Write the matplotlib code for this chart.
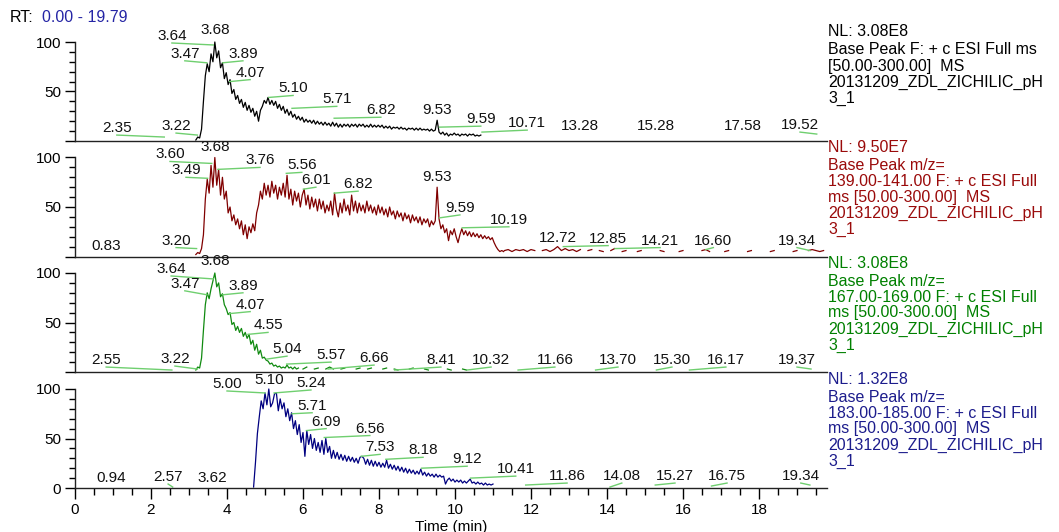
import numpy as np
import matplotlib.pyplot as plt
from matplotlib.ticker import MultipleLocator, FixedLocator

plt.rcParams['font.family'] = ['Liberation Sans', 'DejaVu Sans']

nan = np.nan
step = 0.05  # scan spacing (min) of the traces below

# ---- trace 1: Base Peak full ms (black), relative abundance %
t1_start = 3.18
trace1 = [1, 4, 3, 12, 40, 66, 78, 70, 88, 80, 100, 84, 91, 74, 79, 63, 69, 57, 62, 48,
          52, 42, 46, 38, 42, 34, 39, 31, 36, 29, 33, 25, 30, 20, 31, 35, 41, 38, 44, 37,
          41, 36, 40, 33, 37, 31, 35, 28, 32, 26, 30, 24, 27, 22, 25, 21, 24, 19, 22, 19,
          21, 18, 21, 17, 20, 17, 19, 16, 19, 16, 18, 15, 19, 15, 18, 14, 17, 14, 17, 15,
          17, 14, 17, 15, 17, 14, 17, 15, 17, 14, 16, 14, 17, 14, 16, 14, 16, 14, 16, 13,
          15, 13, 15, 12, 14, 13, 14, 12, 14, 12, 13, 11, 13, 12, 13, 11, 13, 11, 13, 11,
          12, 11, 12, 10, 12, 10, 11, 21, 9, 7, 9, 6, 8, 5, 7, 6, 8, 6, 7, 5,
          7, 6, 7, 5, 7, 6, 7, 5, 6, 5, 6]

# ---- trace 2: m/z 139-141 (dark red)
t2_start = 3.18
trace2 = [2, 4, 3, 8, 22, 58, 78, 64, 92, 70, 100, 72, 88, 62, 80, 58, 66, 44, 50, 36,
          42, 32, 38, 28, 36, 22, 32, 18, 30, 24, 33, 26, 44, 52, 66, 58, 74, 62, 72, 60,
          76, 64, 72, 58, 70, 62, 74, 60, 82, 58, 68, 52, 66, 56, 64, 50, 62, 68, 52, 62,
          48, 60, 50, 58, 46, 58, 48, 56, 44, 52, 46, 56, 42, 64, 48, 40, 54, 44, 58, 46,
          52, 42, 62, 46, 56, 44, 54, 46, 52, 44, 56, 46, 52, 44, 50, 42, 52, 44, 50, 42,
          48, 40, 50, 42, 46, 38, 46, 40, 44, 36, 44, 38, 42, 34, 42, 36, 40, 34, 40, 32,
          38, 34, 38, 30, 36, 32, 36, 70, 38, 28, 32, 24, 28, 16, 26, 22, 28, 20, 14, 22,
          28, 22, 26, 21, 25, 20, 24, 20, 23, 19, 22, 18, 21, 18, 20, 17, 19, 14, 10, 7,
          5, 6, 5]
t2_tail_start = 11.3
trace2_tail = [6, 7, 5, 7, 6, 7, 5, 7, 6, nan, 6, 7, 5, 7, 10, 6, 8, 6, 7, 5,
               7, nan, 6, 7, nan, 6, 5, nan, 6, 8, nan, 5, 6, nan, nan, 5, 6, nan, 5, nan,
               nan, 6, 5, nan, nan, nan, 5, 6, nan, nan, 5, nan, 6, 7, 5, nan, nan, nan, 5, 6,
               nan, nan, nan, nan, 5, 6, nan, nan, nan, nan, 5, 6, nan, nan, nan, nan, 5, 6, nan, nan,
               6, 7, 6, 5, 6]

# ---- trace 3: m/z 167-169 (green)
t3_start = 3.18
trace3 = [2, 5, 4, 14, 42, 68, 80, 74, 84, 92, 100, 86, 90, 76, 79, 68, 64, 58, 60, 48,
          50, 42, 46, 40, 44, 36, 40, 34, 38, 28, 32, 22, 28, 18, 22, 14, 15, 12, 11, 8,
          9, 6, 7, 5, 6, 4, 5, 4, 7, 4, 5, 3, 5, 3, 4]
t3_tail_start = 6.0
trace3_tail = [3, 5, nan, 3, 4, nan, 3, 5, 3, nan, 3, 4, nan, nan, 3, 4, nan, 3, 4, nan,
               nan, 3, 4, nan, 3, 2, nan, nan, 3, 4, nan, nan, 3, 2, nan, 3, nan, nan, 3, 2,
               nan, nan, 3, 2]

# ---- trace 4: m/z 183-185 (navy)
t4_start = 4.70
trace4 = [1, 26, 55, 72, 88, 80, 96, 84, 100, 82, 86, 95, 96, 78, 90, 80, 86, 72, 80, 68,
          76, 60, 68, 54, 64, 46, 56, 32, 58, 44, 54, 40, 50, 38, 46, 36, 48, 34, 50, 36,
          42, 30, 38, 30, 36, 29, 34, 28, 33, 27, 32, 27, 31, 26, 30, 25, 31, 32, 30, 24,
          29, 23, 28, 22, 27, 22, 26, 21, 25, 21, 28, 20, 24, 19, 23, 18, 22, 17, 21, 16,
          20, 15, 19, 15, 18, 14, 17, 14, 19, 13, 16, 12, 15, 12, 14, 11, 14, 11, 13, 11,
          12, 4, 8, 10, 7, 9, 6, 8, 6, 8, 5, 7, 5, 7, 9, 5, 6, 4, 6, 4,
          5, 3, 5, 3, 4, 3, 4]

# ---- peak labels: retention time, peak apex (%), label centre (min, %)
p1_rt = ['2.35', '3.22', '3.64', '3.68', '3.47', '3.89', '4.07', '5.10', '5.71', '6.82',
         '9.53', '9.59', '10.71', '13.28', '15.28', '17.58', '19.52']
p1_h = [4, 6, 97, 100, 79, 79, 60, 44, 33, 23, 21, 14, 9, 1, 1, 1, 7]
p1_lx = [1.1, 2.66, 2.55, 3.68, 2.89, 4.42, 4.61, 5.74, 6.89, 8.05, 9.53, 10.68, 11.9,
         13.28, 15.28, 17.58, 19.08]
p1_ly = [6, 8, 99, 105, 81, 81, 62, 46, 35, 24, 24, 15, 11, 8, 8, 8, 9]

p2_rt = ['0.83', '3.20', '3.60', '3.68', '3.49', '3.76', '5.56', '6.01', '6.82', '9.53',
         '9.59', '10.19', '12.72', '12.85', '14.21', '16.60', '19.34']
p2_h = [4, 8, 94, 100, 79, 88, 84, 68, 64, 70, 39, 29, 12, 10, 8, 7, 6]
p2_lx = [0.83, 2.66, 2.5, 3.68, 2.92, 4.87, 5.97, 6.34, 7.45, 9.53, 10.13, 11.42, 12.72,
         14.03, 15.4, 16.8, 19.0]
p2_ly = [4, 9, 96, 104, 80, 90, 85, 70, 66, 73, 42, 30, 12, 11, 9, 9, 9]

p3_rt = ['2.55', '3.22', '3.64', '3.68', '3.47', '3.89', '4.07', '4.55', '5.04', '5.57',
         '6.66', '8.41', '10.32', '11.66', '13.70', '15.30', '16.17', '19.37']
p3_h = [2, 3, 94, 100, 78, 78, 59, 38, 13, 8, 3, 2, 2, 2, 2, 2, 2, 3]
p3_lx = [0.82, 2.63, 2.53, 3.68, 2.89, 4.42, 4.61, 5.08, 5.58, 6.74, 7.87, 9.63, 10.95,
         12.63, 14.29, 15.71, 17.13, 19.0]
p3_ly = [5, 6, 97, 105, 82, 80, 61, 40, 16, 10, 7, 5, 5, 5, 5, 5, 5, 5]

p4_rt = ['0.94', '2.57', '3.62', '5.00', '5.10', '5.24', '5.71', '6.09', '6.56', '7.53',
         '8.18', '9.12', '10.41', '11.86', '14.08', '15.27', '16.75', '19.34']
p4_h = [0, 1, 0, 96, 100, 96, 75, 58, 51, 32, 29, 20, 10, 3, 1, 3, 2, 3]
p4_lx = [0.94, 2.45, 3.62, 4.0, 5.10, 6.21, 6.24, 6.61, 7.76, 8.03, 9.16, 10.32, 11.6,
         12.95, 14.39, 15.79, 17.16, 19.1]
p4_ly = [3, 4, 3, 98, 102, 99, 76, 60, 53, 34, 31, 22, 12, 5, 5, 5, 5, 5]

info1 = ['NL: 3.08E8', 'Base Peak F: + c ESI Full ms', '[50.00-300.00]  MS',
         '20131209_ZDL_ZICHILIC_pH', '3_1']
info2 = ['NL: 9.50E7', 'Base Peak m/z=', '139.00-141.00 F: + c ESI Full',
         'ms [50.00-300.00]  MS', '20131209_ZDL_ZICHILIC_pH', '3_1']
info3 = ['NL: 3.08E8', 'Base Peak m/z=', '167.00-169.00 F: + c ESI Full',
         'ms [50.00-300.00]  MS', '20131209_ZDL_ZICHILIC_pH', '3_1']
info4 = ['NL: 1.32E8', 'Base Peak m/z=', '183.00-185.00 F: + c ESI Full',
         'ms [50.00-300.00]  MS', '20131209_ZDL_ZICHILIC_pH', '3_1']

leader = '#6fcf6f'
fs = 11

fig = plt.figure(figsize=(10.59, 5.32), dpi=100)
zeros = [141, 256.5, 372, 488]   # pixel row of each panel's 0 line
H = 115.7                        # panel height in px

panels = [
    (trace1, t1_start, None, None, 'black', 'black', p1_rt, p1_h, p1_lx, p1_ly, info1),
    (trace2, t2_start, trace2_tail, t2_tail_start, '#800000', '#9a0a0a', p2_rt, p2_h, p2_lx, p2_ly, info2),
    (trace3, t3_start, trace3_tail, t3_tail_start, '#108a10', '#008000', p3_rt, p3_h, p3_lx, p3_ly, info3),
    (trace4, t4_start, None, None, '#000080', '#1c1c8c', p4_rt, p4_h, p4_lx, p4_ly, info4),
]

axes = []
for k, (tr, t0, tail, tail0, col, tcol, rts, hs, lxs, lys, info) in enumerate(panels):
    ax = fig.add_axes([75 / 1059, (532 - zeros[k]) / 532, 752 / 1059, H / 532])
    axes.append(ax)
    t = t0 + step * np.arange(len(tr))
    ax.plot(t, tr, color=col, lw=0.9)
    if tail is not None:
        tt = tail0 + 0.1 * np.arange(len(tail))
        ax.plot(tt, tail, color=col, lw=0.9)

    # peak labels with leader lines
    for s, h, lx, ly in zip(rts, hs, lxs, lys):
        if abs(lx - float(s)) > 0.01:
            ax.plot([float(s), lx], [h, ly], color=leader, lw=1.0, clip_on=False)
        ax.text(lx, ly, s, ha='center', va='bottom', fontsize=fs, color='#111111')

    # header block to the right
    ypx = [109, 91, 75, 59, 43, 27]
    for line, yp in zip(info, ypx):
        ax.text(1.0015, yp / H, line, transform=ax.transAxes, ha='left', va='center',
                fontsize=11.5, color=tcol)

    ax.set_xlim(0, 19.79)
    ax.set_ylim(0, H / 0.99)
    ax.spines['top'].set_visible(False)
    ax.spines['right'].set_visible(False)
    ax.spines['left'].set_bounds(0, 100)
    for sp in ['left', 'bottom']:
        ax.spines[sp].set_color('#222222')
        ax.spines[sp].set_linewidth(1.0)
    ax.yaxis.set_major_locator(FixedLocator([0, 50, 100]))
    ax.yaxis.set_minor_locator(FixedLocator([10, 20, 30, 40, 60, 70, 80, 90]))
    if k < 3:
        ax.set_yticklabels(['', '50', '100'])
        ax.tick_params(axis='x', which='both', bottom=False, labelbottom=False)
    else:
        ax.set_yticklabels(['0', '50', '100'])
        ax.xaxis.set_major_locator(MultipleLocator(2))
        ax.xaxis.set_minor_locator(MultipleLocator(0.5))
        ax.tick_params(axis='x', which='major', length=8, width=1, pad=3, labelsize=fs)
        ax.tick_params(axis='x', which='minor', length=5, width=1)
        ax.set_xlabel('Time (min)', fontsize=fs, labelpad=2)
    ax.tick_params(axis='y', which='major', length=7, width=1, pad=3, labelsize=fs)
    ax.tick_params(axis='y', which='minor', length=4, width=1)
    ax.patch.set_alpha(0)

fig.text(10 / 1059, 1 - 17 / 532, 'RT:', fontsize=11.5, va='center', ha='left')
fig.text(42 / 1059, 1 - 17 / 532, '0.00 - 19.79', fontsize=11.5, va='center', ha='left',
         color='#2525a5')

fig.savefig('out.png', dpi=100)
